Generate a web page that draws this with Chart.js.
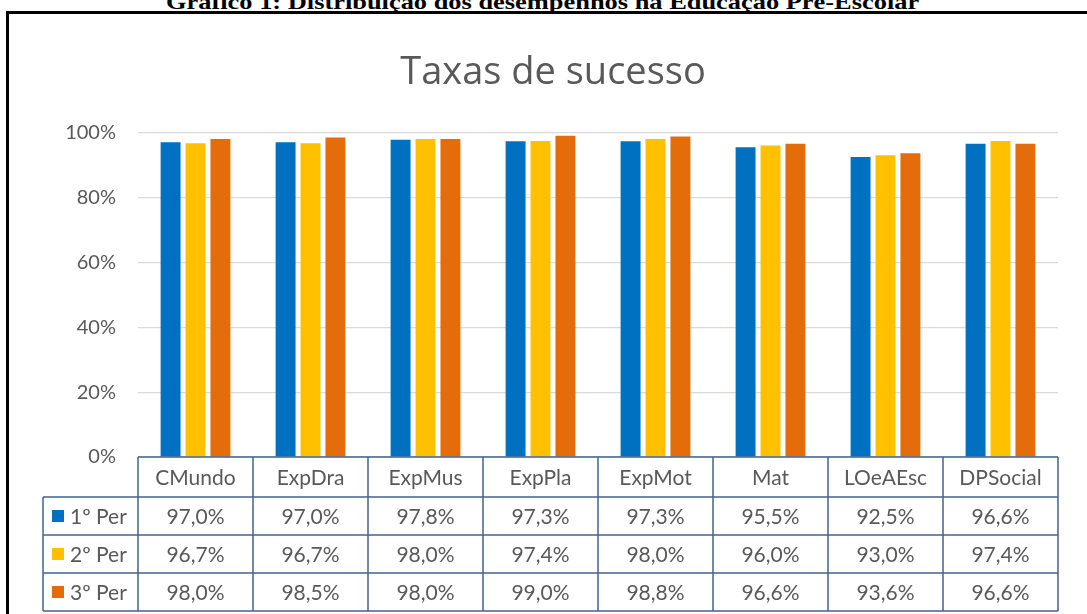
<!DOCTYPE html>
<html>
<head>
<meta charset="utf-8">
<script src="https://cdn.jsdelivr.net/npm/chart.js@4.4.1/dist/chart.umd.min.js"></script>
<style>
  html, body { margin: 0; padding: 0; background: #fff; overflow: hidden; }
  #wrap { position: relative; width: 1087px; height: 614px; }
  #pageTitle {
    position: absolute; left: 0; width: 1087px; top: -9px;
    text-align: center; font: bold 22px/22px "Liberation Serif", serif; color: #000;
    transform: scaleX(1.2); transform-origin: 548px 0;
  }
  #frame {
    position: absolute; left: 6px; top: 11px; width: 1200px; height: 700px;
    border: 3px solid #000;
  }
  #c { position: absolute; left: 0; top: 0; }
</style>
</head>
<body>
<div id="wrap">
  <div id="pageTitle">Gráfico 1: Distribuição dos desempenhos na Educação Pré-Escolar</div>
  <div id="frame"></div>
  <canvas id="c" width="1087" height="614"></canvas>
</div>
<script>
var categories = ['CMundo', 'ExpDra', 'ExpMus', 'ExpPla', 'ExpMot', 'Mat', 'LOeAEsc', 'DPSocial'];
var per1 = [97.0, 97.0, 97.8, 97.3, 97.3, 95.5, 92.5, 96.6];
var per2 = [96.7, 96.7, 98.0, 97.4, 98.0, 96.0, 93.0, 97.4];
var per3 = [98.0, 98.5, 98.0, 99.0, 98.8, 96.6, 93.6, 96.6];
var seriesNames = ['1º Per', '2º Per', '3º Per'];
var seriesColors = ['#0070C0', '#FFC000', '#E46C0A'];

var textColor = '#595959';
var lineColor = '#46638F';
var fontFamily = 'Lato, "Open Sans", sans-serif';

function fmt(v) {
    return v.toFixed(1).replace('.', ',') + '%';
}

// draws the data table under the plot, using the x scale for the columns
var dataTable = {
    id: 'dataTable',
    afterDraw: function(chart) {
        var ctx = chart.ctx;
        var xs = chart.scales.x;
        var area = chart.chartArea;
        var colW = (area.right - area.left) / categories.length;
        var tableLeft = 43;
        var headTop = area.bottom;
        var headH = 40;
        var rowH = 38;
        var rowsTop = headTop + headH;
        var bottom = rowsTop + rowH * 3;

        ctx.save();
        ctx.strokeStyle = lineColor;
        ctx.lineWidth = 1.5;
        ctx.beginPath();
        ctx.moveTo(area.left, headTop);
        ctx.lineTo(area.right, headTop);
        for (var r = 0; r <= 3; r++) {
            var y = rowsTop + r * rowH;
            ctx.moveTo(tableLeft, y);
            ctx.lineTo(area.right, y);
        }
        ctx.moveTo(tableLeft, rowsTop);
        ctx.lineTo(tableLeft, bottom);
        for (var i = 0; i <= categories.length; i++) {
            var x = area.left + i * colW;
            ctx.moveTo(x, headTop);
            ctx.lineTo(x, bottom);
        }
        ctx.stroke();

        ctx.fillStyle = textColor;
        ctx.font = '21px ' + fontFamily;
        ctx.textAlign = 'center';
        ctx.textBaseline = 'middle';
        var rows = [per1, per2, per3];
        categories.forEach(function(cat, i) {
            var cx = xs.getPixelForValue(i);
            ctx.fillText(cat, cx, headTop + headH / 2 + 1);
            rows.forEach(function(vals, r) {
                ctx.fillText(fmt(vals[i]), cx, rowsTop + r * rowH + rowH / 2 + 1);
            });
        });

        // legend keys in the row headers
        ctx.textAlign = 'left';
        seriesNames.forEach(function(name, r) {
            var cy = rowsTop + r * rowH + rowH / 2;
            ctx.fillStyle = seriesColors[r];
            ctx.fillRect(52, cy - 6, 12, 12);
            ctx.fillStyle = textColor;
            ctx.fillText(name, 70, cy + 1);
        });
        ctx.restore();
    }
};

new Chart(document.getElementById('c'), {
    type: 'bar',
    data: {
        labels: categories,
        datasets: [
            { label: seriesNames[0], data: per1, backgroundColor: seriesColors[0] },
            { label: seriesNames[1], data: per2, backgroundColor: seriesColors[1] },
            { label: seriesNames[2], data: per3, backgroundColor: seriesColors[2] }
        ]
    },
    options: {
        responsive: false,
        animation: false,
        layout: { padding: { left: 48, right: 29, top: 0, bottom: 0 } },
        categoryPercentage: 0.65,
        barPercentage: 0.8,
        plugins: {
            legend: { display: false },
            tooltip: { enabled: false },
            title: {
                display: true,
                text: 'Taxas de sucesso',
                color: textColor,
                font: { family: '"Open Sans", sans-serif', size: 38, weight: 'normal' },
                padding: { top: 50, bottom: 37 }
            }
        },
        scales: {
            x: {
                grid: { display: false },
                border: { display: false },
                ticks: { display: false },
                afterFit: function(scale) { scale.height = 157; }
            },
            y: {
                min: 0,
                max: 100,
                ticks: {
                    stepSize: 20,
                    padding: 22,
                    color: textColor,
                    font: { family: fontFamily, size: 20 },
                    callback: function(v) { return v + '%'; }
                },
                grid: { color: '#D9D9D9', lineWidth: 1.2, drawTicks: false },
                border: { display: false },
                afterFit: function(scale) { scale.width = 90; }
            }
        }
    },
    plugins: [dataTable]
});
</script>
</body>
</html>
